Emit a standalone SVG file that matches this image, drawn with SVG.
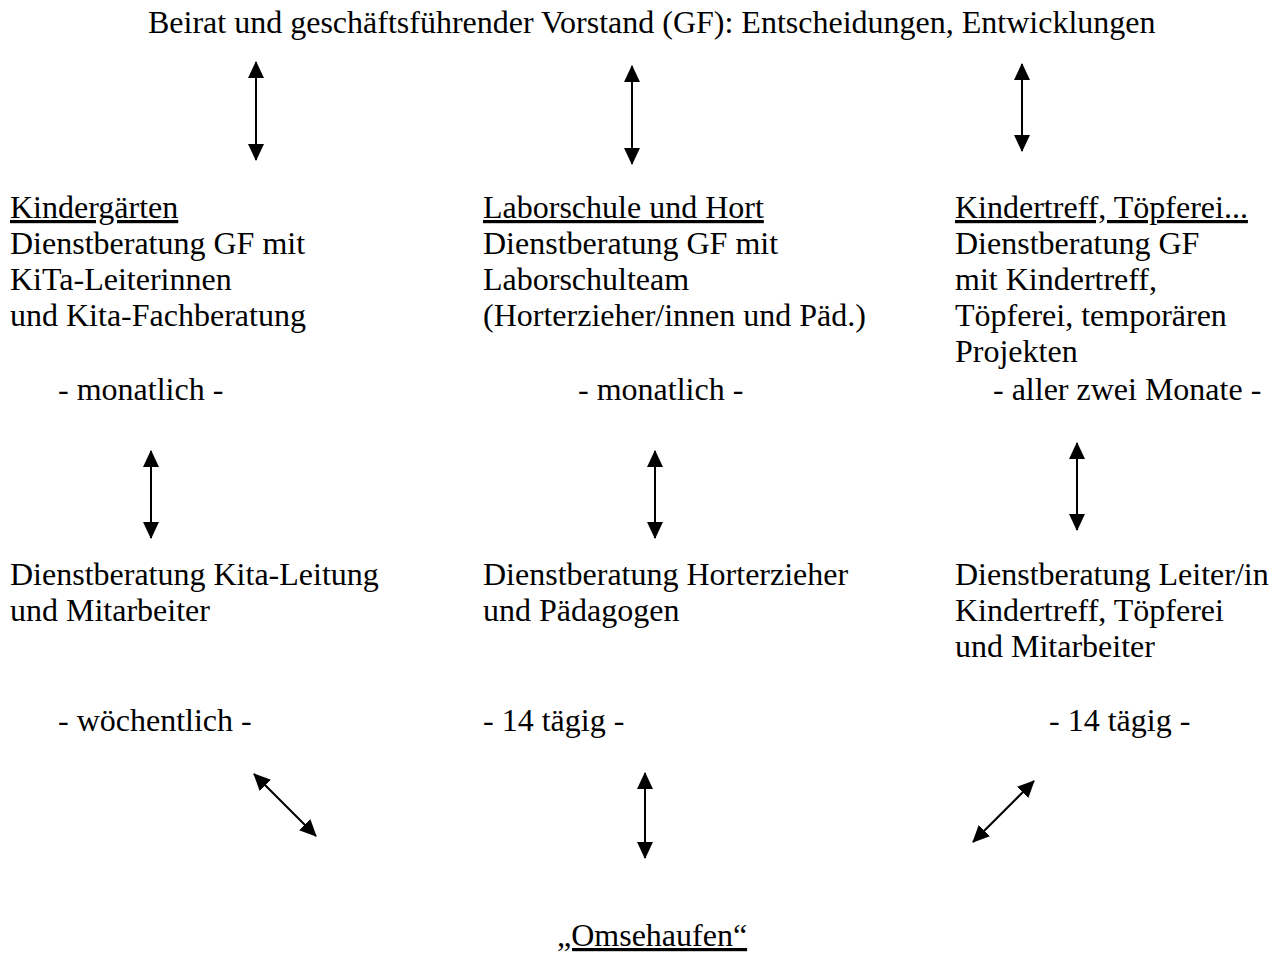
<svg xmlns="http://www.w3.org/2000/svg" width="1276" height="958" viewBox="0 0 1276 958">
<style>
text{font-family:'Liberation Serif','Times New Roman',serif;font-size:32px;fill:#000}
.u{text-decoration:underline}
.c line{stroke:#000;stroke-width:2;marker-start:url(#a);marker-end:url(#a)}
</style>
<defs>
<marker id="a" markerUnits="userSpaceOnUse" markerWidth="18" markerHeight="16" refX="16" refY="8" orient="auto-start-reverse" viewBox="0 0 18 16">
<path d="M0,0 L17,8 L0,16 z" fill="#000"/>
</marker>
</defs>
<rect width="1276" height="958" fill="#fff"/>
<g id="top"><text x="148" y="33">Beirat und geschäftsführender Vorstand (GF): Entscheidungen, Entwicklungen</text></g>
<g id="kiga">
<text x="10" y="218" class="u">Kindergärten</text>
<text x="10" y="254">Dienstberatung GF mit</text>
<text x="10" y="290">KiTa-Leiterinnen</text>
<text x="10" y="326">und Kita-Fachberatung</text>
<text x="58" y="400">- monatlich -</text>
</g>
<g id="labor">
<text x="483" y="218" class="u">Laborschule und Hort</text>
<text x="483" y="254">Dienstberatung GF mit</text>
<text x="483" y="290">Laborschulteam</text>
<text x="483" y="326">(Horterzieher/innen und Päd.)</text>
<text x="578" y="400">- monatlich -</text>
</g>
<g id="treff">
<text x="955" y="218" class="u">Kindertreff, Töpferei...</text>
<text x="955" y="254">Dienstberatung GF</text>
<text x="955" y="290">mit Kindertreff,</text>
<text x="955" y="326">Töpferei, temporären</text>
<text x="955" y="362">Projekten</text>
<text x="993" y="400">- aller zwei Monate -</text>
</g>
<g id="kita-db">
<text x="10" y="585">Dienstberatung Kita-Leitung</text>
<text x="10" y="621">und Mitarbeiter</text>
<text x="58" y="731">- wöchentlich -</text>
</g>
<g id="hort-db">
<text x="483" y="585">Dienstberatung Horterzieher</text>
<text x="483" y="621">und Pädagogen</text>
<text x="483" y="731">- 14 tägig -</text>
</g>
<g id="treff-db">
<text x="955" y="585">Dienstberatung Leiter/in</text>
<text x="955" y="621">Kindertreff, Töpferei</text>
<text x="955" y="657">und Mitarbeiter</text>
<text x="1049" y="731">- 14 tägig -</text>
</g>
<g id="omse"><text x="557" y="946" class="u">„Omsehaufen“</text></g>
<g id="connectors" class="c">
<line x1="256" y1="62" x2="256" y2="160"/>
<line x1="632" y1="66" x2="632" y2="164"/>
<line x1="1022" y1="64" x2="1022" y2="151"/>
<line x1="151" y1="451" x2="151" y2="538"/>
<line x1="655" y1="451" x2="655" y2="538"/>
<line x1="1077" y1="443" x2="1077" y2="530"/>
<line x1="254" y1="774" x2="316" y2="836"/>
<line x1="645" y1="773" x2="645" y2="858"/>
<line x1="1034" y1="781" x2="973" y2="842"/>
</g>
</svg>
